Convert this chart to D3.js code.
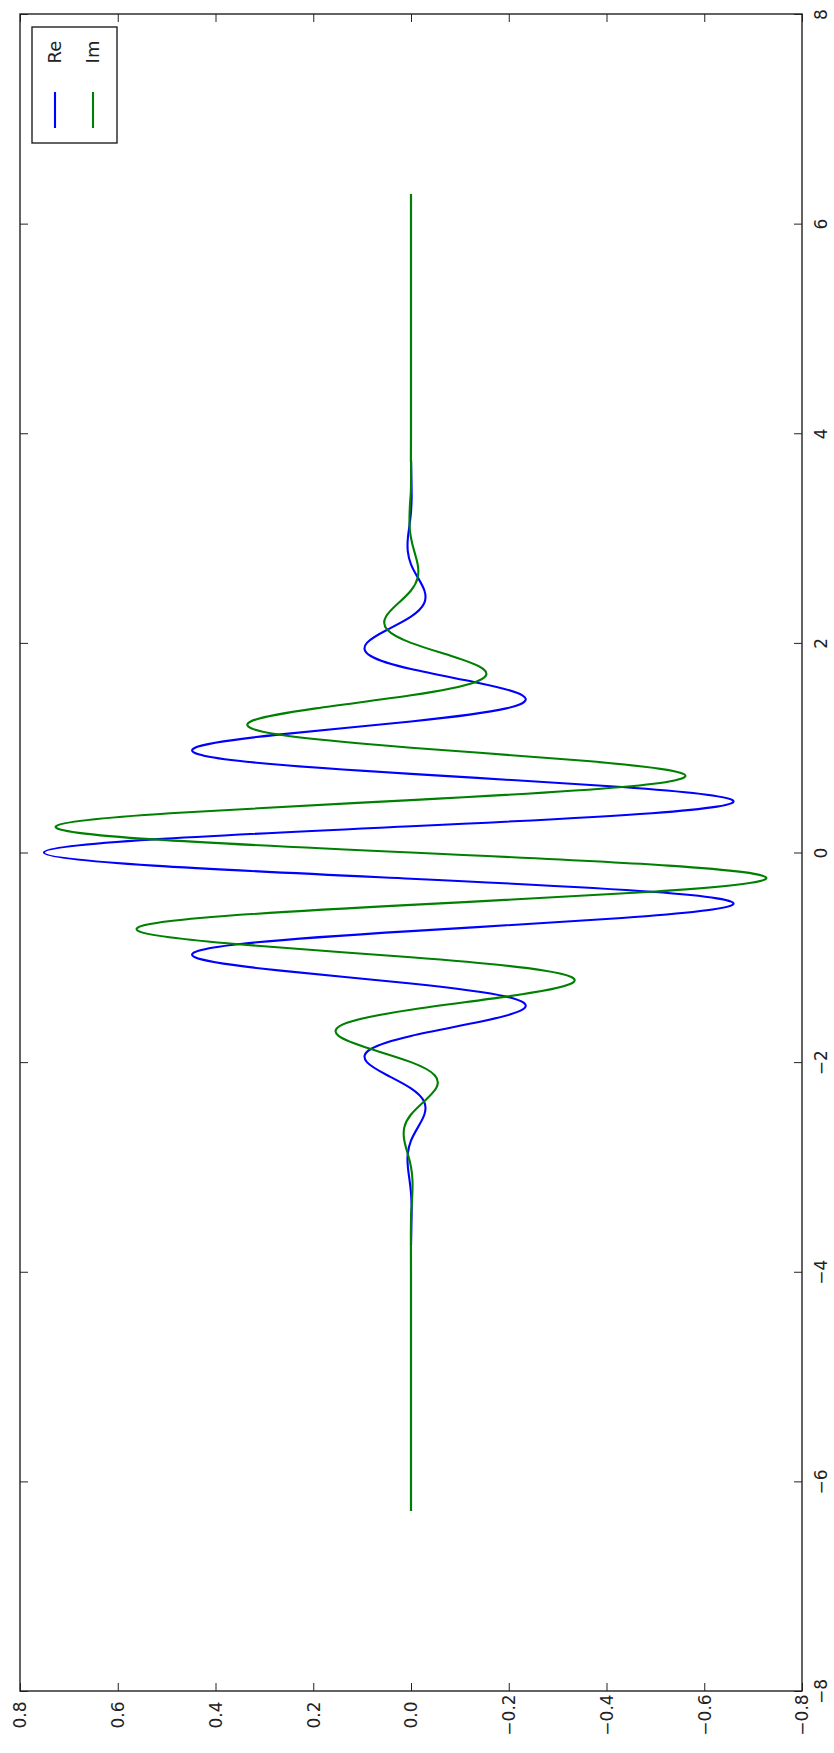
<!DOCTYPE html>
<html>
<head>
<meta charset="utf-8">
<script src="https://cdnjs.cloudflare.com/ajax/libs/d3/7.8.5/d3.min.js"></script>
<style>
    body { margin: 0; background: #fff; }
    text { font-family: "DejaVu Sans", sans-serif; fill: #222; }
</style>
</head>
<body>
<div id="vis"></div>
<script>
/* Morlet-like wavelet, real and imaginary parts, drawn turned on its side (t runs up the page). */

// sample positions along t (the vertical axis)
var tValues = [-6.2832, -4.0, -3.75,
    -3.5, -3.375, -3.25, -3.125, -3.0, -2.875, -2.75, -2.625, -2.5, -2.375, -2.25, -2.125,
    -2.0, -1.875, -1.75, -1.625, -1.5, -1.375, -1.25, -1.125, -1.0, -0.875, -0.75, -0.625,
    -0.5, -0.375, -0.25, -0.125, 0.0, 0.125, 0.25, 0.375, 0.5, 0.625, 0.75, 0.875,
    1.0, 1.125, 1.25, 1.375, 1.5, 1.625, 1.75, 1.875, 2.0, 2.125, 2.25, 2.375,
    2.5, 2.625, 2.75, 2.875, 3.0, 3.125, 3.25, 3.375, 3.5,
    3.75, 4.0, 6.2832];

var reValues = [0, 0, 0,
    -0.0011, -0.0013, 0, 0.0030, 0.0064, 0.0066, 0, -0.0138, -0.0274, -0.0267, 0, 0.0485,
    0.0902, 0.0824, 0, -0.1310, -0.2279, -0.1949, 0, 0.2715, 0.4420, 0.3539, 0, -0.4317,
    -0.6578, -0.4929, 0, 0.5267, 0.7510, 0.5267, 0, -0.4929, -0.6578, -0.4317, 0, 0.3539,
    0.4420, 0.2715, 0, -0.1949, -0.2279, -0.1310, 0, 0.0824, 0.0902, 0.0485, 0, -0.0267,
    -0.0274, -0.0138, 0, 0.0066, 0.0064, 0.0030, 0, -0.0013, -0.0011,
    0, 0, 0];

// imaginary part
var imValues = [0, 0, 0,
    0, -0.0013, -0.0028, -0.0030, 0, 0.0066, 0.0136, 0.0138, 0, -0.0267, -0.0513, -0.0485,
    0, 0.0824, 0.1482, 0.1310, 0, -0.1949, -0.3281, -0.2715, 0, 0.3539, 0.5574, 0.4317,
    0, -0.4929, -0.7265, -0.5267, 0, 0.5267, 0.7265, 0.4929, 0, -0.4317, -0.5574, -0.3539,
    0, 0.2715, 0.3281, 0.1949, 0, -0.1310, -0.1482, -0.0824, 0, 0.0485, 0.0513, 0.0267,
    0, -0.0138, -0.0136, -0.0066, 0, 0.0030, 0.0028, 0.0013, 0,
    0, 0, 0];

var seriesNames = ['Re', 'Im'];
var seriesColors = ['#0000ff', '#008000'];

// tick labels
var valueTicks = [0.8, 0.6, 0.4, 0.2, 0.0, -0.2, -0.4, -0.6, -0.8];
var tTicks = [-8, -6, -4, -2, 0, 2, 4, 6, 8];

// SVG width and height
var width = 834;
var height = 1753;

// plot box edges
var box = { left: 20, right: 802, top: 14, bottom: 1691 };

var svg = d3.select('#vis')
    .append('svg')
    .attr('width', width)
    .attr('height', height);

/************************************** Scales ***************************************/
// value runs right-to-left, t runs bottom-to-top
var xScale = d3.scaleLinear()
    .domain([0.8, -0.8])
    .range([box.left, box.right]);

var yScale = d3.scaleLinear()
    .domain([-8, 8])
    .range([box.bottom, box.top]);

var fmt = function(d) { return d3.format('.1f')(d).replace('-', '\u2212'); };
var fmtInt = function(d) { return String(d).replace('-', '\u2212'); };

/************************************** Curves ***************************************/
var line = d3.line()
    .x(function(d) { return xScale(d.v); })
    .y(function(d) { return yScale(d.t); })
    .curve(d3.curveNatural);

[reValues, imValues].forEach(function(vals, i) {
    var pts = tValues.map(function(t, j) { return { t: t, v: vals[j] }; });
    svg.append('path')
        .datum(pts)
        .attr('d', line)
        .attr('fill', 'none')
        .attr('stroke', seriesColors[i])
        .attr('stroke-width', 2.1)
        .attr('stroke-linejoin', 'round');
});

/************************************** Axes ***************************************/
// bottom: value labels, ticks pointing inward
var bottomAxis = svg.append('g')
    .attr('transform', 'translate(0,' + box.bottom + ')')
    .call(d3.axisBottom(xScale).tickValues(valueTicks).tickFormat(fmt).tickSizeInner(-8).tickSizeOuter(0));
bottomAxis.selectAll('text')
    .attr('x', 0).attr('y', 0).attr('dy', '0.35em')
    .attr('transform', 'translate(0,24) rotate(-90)')
    .style('text-anchor', 'middle');

svg.append('g')
    .attr('transform', 'translate(0,' + box.top + ')')
    .call(d3.axisTop(xScale).tickValues(valueTicks).tickFormat('').tickSizeInner(-8).tickSizeOuter(0));

svg.append('g')
    .attr('transform', 'translate(' + box.left + ',0)')
    .call(d3.axisLeft(yScale).tickValues(tTicks).tickFormat('').tickSizeInner(-8).tickSizeOuter(0));

// right: t labels
var rightAxis = svg.append('g')
    .attr('transform', 'translate(' + box.right + ',0)')
    .call(d3.axisRight(yScale).tickValues(tTicks).tickFormat(fmtInt).tickSizeInner(-8).tickSizeOuter(0));
rightAxis.selectAll('text')
    .attr('x', 0).attr('y', 0).attr('dy', '0.35em')
    .attr('transform', 'translate(19,0) rotate(-90)')
    .style('text-anchor', 'middle');

svg.selectAll('.domain').remove();
svg.selectAll('.tick line').attr('stroke', '#222').attr('stroke-width', 1);
svg.selectAll('.tick text').style('font-size', '17px').style('font-family', '"DejaVu Sans", sans-serif').attr('fill', '#222');

svg.append('rect')
    .attr('x', box.left)
    .attr('y', box.top)
    .attr('width', box.right - box.left)
    .attr('height', box.bottom - box.top)
    .attr('fill', 'none')
    .attr('stroke', '#222')
    .attr('stroke-width', 1.4);

/************************************** Legend ***************************************/
var legend = svg.append('g');
legend.append('rect')
    .attr('x', 32).attr('y', 27)
    .attr('width', 85).attr('height', 116)
    .attr('fill', '#fff')
    .attr('stroke', '#222')
    .attr('stroke-width', 1.4);

var legendX = [55, 93];
seriesNames.forEach(function(name, i) {
    legend.append('text')
        .attr('transform', 'translate(' + legendX[i] + ',52) rotate(-90)')
        .attr('dy', '0.35em')
        .style('text-anchor', 'middle')
        .style('font-size', '18px')
        .text(name);
    legend.append('line')
        .attr('x1', legendX[i]).attr('x2', legendX[i])
        .attr('y1', 92).attr('y2', 128)
        .attr('stroke', seriesColors[i])
        .attr('stroke-width', 2.1);
});
</script>
</body>
</html>
